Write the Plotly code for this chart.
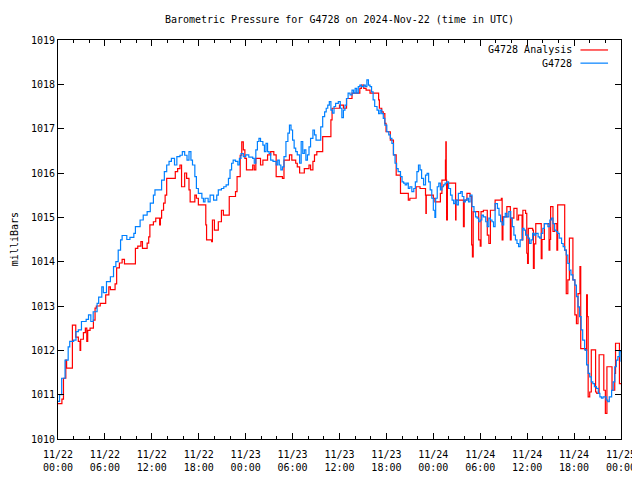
import pandas as pd
import plotly.graph_objects as go

START = "2024-11-22 00:00"

# G4728 (observed) : hours since start, pressure (mb)
obs_hours = [0.0, 0.2, 0.47, 0.9, 1.3, 1.5, 2.0, 2.3, 2.6, 3.0, 3.6, 3.9, 4.2, 4.5, 5.0, 5.2, 5.6, 5.8, 6.2, 6.7,
             7.1, 7.4, 7.7, 8.0, 8.2, 8.8, 9.2, 9.7, 9.9, 10.5, 10.9, 11.4, 11.8, 12.2, 12.4, 13.25, 13.6, 13.9, 14.2, 14.5,
             14.9, 15.2, 15.6, 15.9, 16.2, 16.5, 16.75, 17.0, 17.2, 17.5, 17.7, 17.95, 18.4, 18.6, 18.8, 19.2, 19.45, 19.9, 20.3, 20.5,
             20.9, 21.2, 21.5, 21.8, 22.0, 22.2, 22.4, 22.7, 23.0, 23.2, 23.4, 23.7, 24.0, 24.4, 24.9, 25.1, 25.3, 25.5, 25.7, 25.9,
             26.2, 26.4, 26.6, 26.8, 27.0, 27.2, 27.5, 27.9, 28.1, 28.3, 28.5, 28.7, 28.9, 29.15, 29.4, 29.6, 29.8, 30.0, 30.2, 30.4,
             30.6, 30.9, 31.1, 31.3, 31.5, 31.7, 31.9, 32.1, 32.3, 32.6, 32.8, 33.0, 33.3, 33.6, 33.85, 34.1, 34.3, 34.5, 34.7, 34.9,
             35.1, 35.3, 35.5, 35.85, 36.1, 36.3, 36.5, 36.7, 36.9, 37.1, 37.35, 37.6, 37.8, 38.0, 38.2, 38.4, 38.6, 38.8, 39.1, 39.3,
             39.5, 39.7, 39.9, 40.1, 40.3, 40.5, 40.8, 41.0, 41.2, 41.4, 41.6, 41.8, 42.05, 42.3, 42.5, 42.7, 42.9, 43.1, 43.3, 43.5,
             43.8, 44.0, 44.2, 44.4, 44.6, 44.8, 45.0, 45.25, 45.5, 45.7, 45.9, 46.1, 46.3, 46.5, 46.75, 47.0, 47.2, 47.4, 47.6, 47.8,
             48.0, 48.2, 48.3, 48.5, 48.7, 48.9, 49.1, 49.3, 49.5, 49.7, 49.95, 50.2, 50.4, 50.6, 50.8, 51.0, 51.2, 51.5, 51.7, 51.9,
             52.1, 52.3, 52.5, 52.7, 52.95, 53.2, 53.4, 53.6, 53.8, 54.0, 54.2, 54.4, 54.7, 54.9, 55.1, 55.3, 55.5, 55.7, 55.9, 56.2,
             56.4, 56.6, 56.8, 57.0, 57.2, 57.4, 57.65, 57.9, 58.1, 58.3, 58.5, 58.7, 58.9, 59.1, 59.4, 59.6, 59.8, 60.1, 60.3, 60.5,
             60.7, 60.9, 61.1, 61.4, 61.6, 61.8, 62.0, 62.2, 62.65, 62.9, 63.1, 63.3, 63.5, 63.7, 63.9, 64.1, 64.4, 64.6, 64.8, 65.0,
             65.2, 65.4, 65.6, 65.85, 66.1, 66.3, 66.5, 66.7, 66.9, 67.1, 67.35, 67.6, 67.8, 68.0, 68.2, 68.4, 68.6, 68.85, 69.1, 69.3,
             69.5, 69.7, 70.1, 70.3, 70.5, 70.8, 71.0, 71.2, 71.4, 71.6, 71.8, 72.0]
obs_mb = [1010.85, 1011.0, 1011.37, 1011.78, 1012.08, 1012.2, 1012.23, 1012.42, 1012.46, 1012.65, 1012.7, 1012.8, 1012.65, 1012.87, 1013.06, 1013.2, 1013.43, 1013.3, 1013.55, 1013.66,
          1013.89, 1014.0, 1014.26, 1014.49, 1014.59, 1014.5, 1014.55, 1014.64, 1014.79, 1014.94, 1015.05, 1015.13, 1015.32, 1015.5, 1015.62, 1015.84, 1016.03, 1016.18, 1016.26, 1016.33,
          1016.18, 1016.37, 1016.4, 1016.48, 1016.4, 1016.29, 1016.48, 1016.29, 1016.18, 1015.92, 1015.65, 1015.54, 1015.43, 1015.35, 1015.43, 1015.35, 1015.5, 1015.39, 1015.5, 1015.62,
          1015.65, 1015.69, 1015.73, 1015.88, 1016.07, 1016.22, 1016.29, 1016.26, 1016.18, 1016.33, 1016.44, 1016.37, 1016.41, 1016.36, 1016.33, 1016.22, 1016.52, 1016.71, 1016.78, 1016.71,
          1016.63, 1016.48, 1016.67, 1016.48, 1016.44, 1016.29, 1016.26, 1016.18, 1016.29, 1016.18, 1016.07, 1016.14, 1016.37, 1016.71, 1016.9, 1017.08, 1016.97, 1016.74, 1016.56, 1016.48,
          1016.41, 1016.22, 1016.71, 1016.44, 1016.52, 1016.29, 1016.41, 1016.59, 1016.78, 1016.97, 1016.86, 1016.74, 1016.74, 1017.04, 1017.27, 1017.38, 1017.46, 1017.53, 1017.61, 1017.42,
          1017.35, 1017.5, 1017.57, 1017.61, 1017.46, 1017.25, 1017.42, 1017.53, 1017.68, 1017.8, 1017.76, 1017.87, 1017.8, 1017.91, 1017.8, 1017.95, 1017.98, 1017.95, 1017.98, 1017.95,
          1018.1, 1017.98, 1017.95, 1017.83, 1017.65, 1017.5, 1017.42, 1017.34, 1017.42, 1017.34, 1017.23, 1017.08, 1016.93, 1016.86, 1016.78, 1016.67, 1016.41, 1016.22, 1016.1, 1016.03,
          1015.92, 1015.8, 1015.77, 1015.73, 1015.77, 1015.65, 1015.69, 1015.58, 1015.65, 1015.8, 1016.03, 1016.18, 1016.07, 1015.88, 1015.73, 1015.95, 1015.99, 1015.8, 1015.62, 1015.43,
          1015.16, 1015.0, 1015.43, 1015.69, 1015.77, 1015.62, 1015.69, 1015.73, 1015.77, 1015.8, 1015.65, 1015.5, 1015.39, 1015.31, 1015.39, 1015.28, 1015.54, 1015.58, 1015.47, 1015.35,
          1015.39, 1015.43, 1015.35, 1015.5, 1015.24, 1015.13, 1015.01, 1014.98, 1014.9, 1014.94, 1015.05, 1015.01, 1014.9, 1014.79, 1014.98, 1014.94, 1014.9, 1014.79, 1015.31, 1015.2,
          1015.05, 1014.9, 1014.83, 1015.01, 1015.09, 1015.01, 1015.13, 1014.98, 1014.79, 1014.6, 1014.49, 1014.41, 1014.34, 1014.49, 1014.75, 1014.71, 1014.6, 1014.53, 1014.41, 1014.49,
          1014.64, 1014.6, 1014.64, 1014.56, 1014.53, 1014.64, 1014.75, 1014.86, 1014.79, 1014.94, 1014.98, 1014.86, 1014.71, 1014.68, 1014.64, 1014.53, 1014.41, 1014.34, 1014.26, 1014.15,
          1013.96, 1013.81, 1013.7, 1013.59, 1013.47, 1013.21, 1012.98, 1012.76, 1012.46, 1012.23, 1012.01, 1011.67, 1011.48, 1011.4, 1011.29, 1011.25, 1011.18, 1011.14, 1011.03, 1010.95,
          1010.92, 1010.95, 1010.88, 1010.84, 1010.95, 1011.1, 1011.29, 1011.63, 1011.78, 1011.86, 1011.97, 1011.74]

# G4728 Analysis
ana_hours = [0.0, 0.5, 0.7, 1.0, 1.1, 1.84, 2.27, 2.6, 2.82, 2.9, 3.25, 3.5, 3.68, 3.8, 4.1, 4.53, 4.74, 4.9, 5.4, 6.1,
             6.5, 6.7, 7.3, 7.5, 7.85, 8.2, 8.5, 9.9, 10.2, 10.6, 10.8, 11.4, 11.6, 11.75, 12.2, 12.5, 13.0, 13.1, 13.25, 13.5,
             13.7, 13.9, 15.0, 15.3, 15.6, 15.8, 16.2, 16.45, 16.75, 16.9, 17.5, 17.7, 17.95, 18.9, 19.0, 19.65, 19.75, 20.0, 20.5, 20.9,
             21.15, 21.9, 22.7, 22.9, 23.3, 23.5, 23.7, 23.9, 24.1, 24.9, 25.1, 25.3, 25.9, 26.2, 26.8, 27.2, 27.6, 27.9, 28.7, 28.9,
             29.6, 29.9, 30.4, 30.6, 30.9, 31.5, 32.1, 32.3, 32.6, 32.8, 33.1, 33.85, 34.9, 35.05, 36.0, 36.5, 36.9, 37.6, 38.6, 38.8,
             39.1, 39.4, 39.9, 41.0, 41.1, 41.4, 41.6, 41.8, 41.95, 42.5, 42.9, 43.25, 43.8, 44.8, 45.0, 45.8, 46.3, 47.0, 47.05, 47.1,
             48.0, 48.2, 48.9, 49.1, 49.55, 49.6, 49.65, 49.7, 49.8, 50.85, 50.9, 51.85, 51.95, 52.3, 52.7, 52.9, 53.0, 53.1, 53.8, 54.0,
             54.1, 54.4, 54.9, 55.1, 55.3, 55.9, 56.7, 56.8, 56.9, 57.4, 57.85, 57.95, 58.3, 58.7, 58.9, 59.35, 59.45, 59.8, 59.95, 60.05,
             60.15, 60.7, 60.8, 60.9, 61.1, 61.8, 61.9, 62.2, 62.8, 62.9, 63.0, 63.3, 63.5, 63.8, 63.9, 64.8, 65.0, 65.2, 65.4, 65.85,
             66.1, 66.3, 66.5, 66.75, 66.85, 67.5, 67.6, 67.7, 67.8, 68.0, 68.2, 68.75, 68.9, 69.2, 69.8, 70.0, 70.2, 70.85, 71.2, 71.3,
             71.8, 72.0]
ana_mb = [1010.8, 1010.9, 1011.37, 1011.78, 1011.6, 1012.57, 1012.3, 1012.2, 1012.0, 1012.25, 1012.4, 1012.5, 1012.2, 1012.45, 1012.5, 1012.68, 1012.95, 1013.0, 1013.06, 1013.25,
          1013.43, 1013.37, 1013.5, 1013.86, 1013.97, 1014.05, 1013.95, 1014.3, 1014.35, 1014.45, 1014.3, 1014.42, 1014.56, 1014.83, 1014.9, 1014.98, 1014.83, 1014.98, 1015.16, 1015.32,
          1015.5, 1015.88, 1016.03, 1016.1, 1016.18, 1015.69, 1016.0, 1015.88, 1015.62, 1015.35, 1015.5, 1015.43, 1015.28, 1014.83, 1014.49, 1014.45, 1014.94, 1014.71, 1014.9, 1015.16,
          1015.05, 1015.47, 1015.58, 1015.92, 1016.4, 1016.7, 1016.52, 1016.33, 1016.07, 1016.18, 1016.07, 1016.33, 1016.18, 1016.29, 1016.41, 1016.48, 1016.41, 1015.92, 1015.88, 1016.29,
          1016.41, 1016.29, 1016.22, 1016.14, 1016.0, 1016.1, 1016.18, 1016.07, 1016.26, 1016.41, 1016.48, 1016.82, 1017.2, 1017.46, 1017.53, 1017.46, 1017.68, 1017.8, 1017.91, 1017.98,
          1017.91, 1017.87, 1017.8, 1017.65, 1017.46, 1017.38, 1017.34, 1017.12, 1016.93, 1016.74, 1016.41, 1015.95, 1015.54, 1015.39, 1015.43, 1015.69, 1015.65, 1015.5, 1015.09, 1015.5,
          1015.43, 1015.35, 1015.54, 1015.84, 1016.29, 1016.7, 1015.84, 1014.94, 1015.77, 1014.94, 1015.39, 1014.79, 1015.39, 1015.54, 1015.47, 1014.38, 1014.11, 1015.13, 1014.49, 1014.35,
          1015.13, 1015.16, 1014.6, 1014.41, 1015.16, 1015.39, 1015.43, 1014.49, 1015.01, 1015.24, 1014.49, 1014.98, 1015.2, 1014.94, 1015.05, 1014.49, 1015.16, 1015.09, 1014.19, 1013.96,
          1014.75, 1014.71, 1013.85, 1014.4, 1014.86, 1014.07, 1014.5, 1014.86, 1014.26, 1014.5, 1015.24, 1014.68, 1014.86, 1014.26, 1015.28, 1014.26, 1013.28, 1013.59, 1014.53, 1013.59,
          1012.8, 1012.6, 1013.28, 1013.89, 1012.04, 1012.0, 1013.25, 1012.76, 1010.95, 1011.06, 1012.01, 1011.06, 1011.03, 1011.9, 1011.1, 1010.58, 1011.63, 1011.1, 1011.48, 1012.16,
          1011.25, 1011.25]

Y_TICKS = [1010, 1011, 1012, 1013, 1014, 1015, 1016, 1017, 1018, 1019]
TITLE = "Barometric Pressure for G4728 on 2024-Nov-22 (time in UTC)"
Y_TITLE = "milliBars"
NAMES = ["G4728 Analysis", "G4728"]
COLORS = ["#ff0000", "#0080ff"]

start = pd.Timestamp(START)
ana_t = start + pd.to_timedelta(ana_hours, unit="h")
obs_t = start + pd.to_timedelta(obs_hours, unit="h")

FONT = "DejaVu Sans Mono"
FS = 10
PAGE_OFFSET = 8  # default body margin of the html page

fig = go.Figure()
fig.add_trace(go.Scatter(x=ana_t, y=ana_mb, mode="lines", line=dict(color=COLORS[0], width=1.2, shape="hv"),
                         name=NAMES[0], showlegend=False))
fig.add_trace(go.Scatter(x=obs_t, y=obs_mb, mode="lines", line=dict(color=COLORS[1], width=1.2, shape="hv"),
                         name=NAMES[1], showlegend=False))

# gnuplot-style key: text then line sample, top right inside the plot
for i, (nm, col) in enumerate(zip(NAMES, COLORS)):
    yk = 0.975 - i * 0.033
    fig.add_annotation(xref="paper", yref="paper", x=0.917, y=yk, text=nm, showarrow=False,
                       xanchor="right", yanchor="middle", font=dict(family=FONT, size=FS, color="black"))
    fig.add_shape(type="line", xref="paper", yref="paper", x0=0.928, x1=0.977, y0=yk, y1=yk,
                  line=dict(color=col, width=1.2))

# y-axis title placed like gnuplot's ylabel
fig.add_annotation(xref="paper", yref="paper", x=-0.077, y=0.5, text=Y_TITLE, textangle=-90, showarrow=False,
                   xanchor="center", yanchor="middle", font=dict(family=FONT, size=FS, color="black"))

end = start + pd.Timedelta(hours=72)
fig.update_layout(
    width=640 - PAGE_OFFSET, height=480 - PAGE_OFFSET,
    margin=dict(l=58 - PAGE_OFFSET, r=19, t=40 - PAGE_OFFSET, b=41),
    paper_bgcolor="white", plot_bgcolor="white",
    font=dict(family=FONT, size=FS, color="black"),
    title=dict(text=TITLE, xref="paper", x=0.5, xanchor="center", yref="container",
               y=1 - (19 - PAGE_OFFSET) / (480 - PAGE_OFFSET), yanchor="middle",
               font=dict(family=FONT, size=FS, color="black")),
    xaxis=dict(range=[start, end], tickformat="%m/%d<br>%H:%M", dtick=6 * 3600 * 1000, tick0=start,
               ticks="inside", ticklen=6, tickcolor="black", showline=True, linecolor="black", linewidth=1,
               mirror="allticks", showgrid=False, zeroline=False, automargin=False, ticklabelstandoff=6,
               minor=dict(dtick=2 * 3600 * 1000, ticks="inside", ticklen=3, tickcolor="black", showgrid=False)),
    yaxis=dict(range=[Y_TICKS[0], Y_TICKS[-1]], tickvals=Y_TICKS, ticks="inside", ticklen=6, tickcolor="black",
               showline=True, linecolor="black", linewidth=1, mirror="allticks", showgrid=False, zeroline=False,
               automargin=False),
)

fig.write_html("out.html")
